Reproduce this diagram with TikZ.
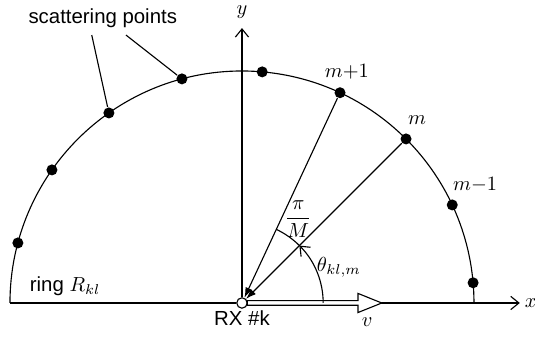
\documentclass[tikz,border=0pt]{standalone}
\usepackage{fontspec}
\setsansfont{Liberation Sans}
\usetikzlibrary{arrows.meta,calc}

\begin{document}
\begin{tikzpicture}[>={Straight Barb[length=4pt,width=6.5pt]},line width=0.55pt]
  \tikzstyle{dotNode}=[circle,fill=black,inner sep=0pt,minimum size=1.9mm]
  \tikzstyle{textNode}=[font=\sffamily]
  \tikzstyle{rayLine}=[-{Latex[length=5pt,width=3.5pt]}]
  \useasboundingbox (-4.172,-0.586) rectangle (5.052,5.224);
  \node[circle,draw,fill=white,inner sep=0pt,minimum size=1.8mm] (rx) at (0,0) {};
  \coordinate (ringLeft) at (180:4);
  \coordinate (xEnd) at (4.79,0);
  \coordinate (yEnd) at (0,4.74);
  % ring and axes
  \draw (4,0) arc (0:180:4);
  \draw (ringLeft) -- (rx);
  \draw[->] (rx) -- (xEnd);
  \draw[->] (rx) -- (yEnd);
  \node (xLabel) at (4.98,0) {$x$};
  \node (yLabel) at (0,5.02) {$y$};
  \foreach \k in {0,...,8}
    \node[dotNode] (p\k) at ({5+20*\k}:4) {};
  % velocity arrow
  \draw[fill=white] (0.09,0.04) -- (2.0,0.04) -- (2.0,0.165) -- (2.41,0)
    -- (2.0,-0.165) -- (2.0,-0.04) -- (0.09,-0.04) -- cycle;
  \node (vLabel) at (2.16,-0.33) {$v$};
  % rays and angles
  \draw[rayLine] (p2) -- (rx);
  \draw[rayLine] (p3) -- (rx);
  \draw[->] (1.4,0) arc (0:45:1.4);
  \draw (45:1.4) arc (45:65:1.4);
  \node (thetaLabel) at (1.67,0.62) {$\theta_{kl,m}$};
  \node (fracLabel) at (0.97,1.45) {$\displaystyle\frac{\pi}{M}$};
  \node (mPlusLabel) at (1.81,3.98) {$m{+}1$};
  \node (mLabel) at (3.02,3.16) {$m$};
  \node (mMinusLabel) at (4.02,2.03) {$m{-}1$};
  % texts
  \node[textNode] (ringLabel) at (-3.05,0.29) {ring $R_{kl}$};
  \node[textNode] (rxLabel) at (0,-0.26) {RX \#k};
  \node[textNode] (scatText) at (-2.40,4.91) {scattering points};
  \draw ([xshift=-0.19cm]scatText.south) -- (p6);
  \draw ([xshift=0.4cm]scatText.south) -- (p5);
\end{tikzpicture}
\end{document}
